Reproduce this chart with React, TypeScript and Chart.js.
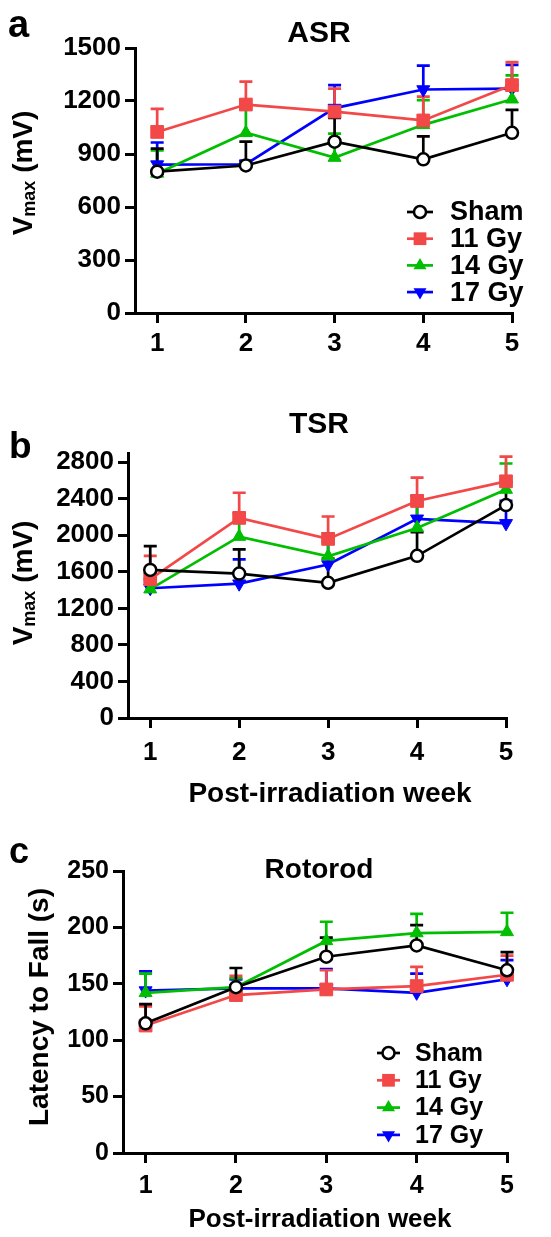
import React, { useEffect, useRef } from "react";
import { Chart, registerables } from "chart.js";

Chart.register(...registerables);

const FONT = '"Liberation Sans", Arial, Helvetica, sans-serif';

// ---------- data ----------
const weeks = [1, 2, 3, 4, 5];
const seriesNames = ["Sham", "11 Gy", "14 Gy", "17 Gy"];

// ASR (Vmax, mV): mean and SEM
const asrSham = [800, 835, 970, 870, 1020];
const asrSemSham = [130, 135, 135, 130, 130];
const asr11 = [1025, 1180, 1140, 1090, 1290];
const asrSem11 = [130, 130, 130, 135, 130];
const asr14 = [790, 1020, 880, 1065, 1210];
const asrSem14 = [130, 150, 135, 140, 135];
const asr17 = [840, 842, 1160, 1265, 1270];
const asrSem17 = [125, 20, 130, 135, 135];
const asrTicks = [0, 300, 600, 900, 1200, 1500];

// TSR (Vmax, mV)
const tsrSham = [1620, 1580, 1480, 1775, 2330];
const tsrSemSham = [260, 265, 265, 260, 250];
const tsr11 = [1520, 2190, 1960, 2375, 2590];
const tsrSem11 = [255, 275, 245, 255, 270];
const tsr14 = [1410, 1985, 1770, 2080, 2500];
const tsrSem14 = [110, 255, 250, 260, 285];
const tsr17 = [1420, 1470, 1680, 2180, 2130];
const tsrSem17 = [100, 265, 255, 250, 245];
const tsrTicks = [0, 400, 800, 1200, 1600, 2000, 2400, 2800];

// Rotorod (latency to fall, s)
const rotSham = [115, 147, 174, 184, 162];
const rotSemSham = [17, 17, 17, 18, 16];
const rot11 = [113, 140, 145, 148, 158];
const rotSem11 = [17, 17, 17, 17, 17];
const rot14 = [142, 147, 188, 195, 196];
const rotSem14 = [17, 8, 17, 17, 17];
const rot17 = [144, 146, 146, 142, 154];
const rotSem17 = [17, 8, 17, 17, 17];
const rotTicks = [0, 50, 100, 150, 200, 250];

// ---------- styles ----------
const colors = ["#000000", "#F24848", "#00BE00", "#0000FF"];
const pointStyles = ["circle", "rect", "triangle", "triangle"];
const pointRotations = [0, 0, 0, 180];
const pointRadii = [6, 9, 7.5, 7.5];
const LINE_W = 2.7;

type Part = { t: string; size: number; dy?: number };

interface PanelSpec {
  height: number;
  means: number[][];
  sems: number[][];
  yMax: number;
  yTicks: number[];
  padding: { top: number; right: number };
  yWidth: number;
  xHeight: number;
  tickSize: number;
  letter: { t: string; x: number; y: number; size: number };
  title: { t: string; x: number; y: number; size: number };
  yTitle: { x: number; y: number; parts: Part[] };
  xTitle?: { t: string; x: number; y: number; size: number };
  legend?: { lx0: number; lx1: number; tx: number; y0: number; dy: number; size: number };
  xTickPad: number;
}

const panels: PanelSpec[] = [
  {
    height: 380,
    means: [asrSham, asr11, asr14, asr17],
    sems: [asrSemSham, asrSem11, asrSem14, asrSem17],
    yMax: 1500,
    yTicks: asrTicks,
    padding: { top: 48, right: 39 },
    yWidth: 135,
    xHeight: 67,
    tickSize: 26,
    letter: { t: "a", x: 8, y: 37, size: 38 },
    title: { t: "ASR", x: 319, y: 42, size: 30 },
    yTitle: {
      x: 32,
      y: 173,
      parts: [
        { t: "V", size: 28 },
        { t: "max", size: 18, dy: 3 },
        { t: " (mV)", size: 28 },
      ],
    },
    legend: { lx0: 407, lx1: 433, tx: 450, y0: 212, dy: 26.7, size: 27 },
    xTickPad: 5,
  },
  {
    height: 450,
    means: [tsrSham, tsr11, tsr14, tsr17],
    sems: [tsrSemSham, tsrSem11, tsrSem14, tsrSem17],
    yMax: 2900,
    yTicks: tsrTicks,
    padding: { top: 73, right: 45 },
    yWidth: 128,
    xHeight: 112,
    tickSize: 26,
    letter: { t: "b", x: 9, y: 78, size: 37 },
    title: { t: "TSR", x: 319, y: 53, size: 30 },
    yTitle: {
      x: 32,
      y: 203,
      parts: [
        { t: "V", size: 28 },
        { t: "max", size: 18, dy: 3 },
        { t: " (mV)", size: 28 },
      ],
    },
    xTitle: { t: "Post-irradiation week", x: 330, y: 422, size: 28 },
    xTickPad: 9,
  },
  {
    height: 407,
    means: [rotSham, rot11, rot14, rot17],
    sems: [rotSemSham, rotSem11, rotSem14, rotSem17],
    yMax: 250,
    yTicks: rotTicks,
    padding: { top: 41, right: 44 },
    yWidth: 123,
    xHeight: 84,
    tickSize: 25,
    letter: { t: "c", x: 9, y: 33, size: 36 },
    title: { t: "Rotorod", x: 319, y: 48, size: 28 },
    yTitle: { x: 48, y: 177, parts: [{ t: "Latency to Fall (s)", size: 28 }] },
    xTitle: { t: "Post-irradiation week", x: 320, y: 397, size: 26 },
    legend: { lx0: 377, lx1: 400, tx: 415, y0: 223, dy: 27.3, size: 25 },
    xTickPad: 8,
  },
];

function drawMarker(ctx: CanvasRenderingContext2D, k: number, x: number, y: number) {
  const r = pointRadii[k];
  ctx.save();
  ctx.fillStyle = colors[k];
  ctx.strokeStyle = colors[k];
  if (k === 0) {
    ctx.beginPath();
    ctx.arc(x, y, r, 0, Math.PI * 2);
    ctx.fillStyle = "#fff";
    ctx.fill();
    ctx.lineWidth = 2.5;
    ctx.stroke();
  } else if (k === 1) {
    const s = r * Math.SQRT1_2;
    ctx.fillRect(x - s, y - s, 2 * s, 2 * s);
  } else {
    const dir = k === 3 ? -1 : 1;
    const h = Math.sin(Math.PI / 3) * r;
    ctx.beginPath();
    ctx.moveTo(x, y - dir * r);
    ctx.lineTo(x + h, y + dir * r * 0.5);
    ctx.lineTo(x - h, y + dir * r * 0.5);
    ctx.closePath();
    ctx.fill();
  }
  ctx.restore();
}

function makePlugin(spec: PanelSpec) {
  return {
    id: "decor",
    beforeDatasetsDraw(chart: any) {
      const ctx: CanvasRenderingContext2D = chart.ctx;
      const xs = chart.scales.x;
      const ys = chart.scales.y;
      ctx.save();
      ctx.lineWidth = LINE_W;
      for (let k = spec.means.length - 1; k >= 0; k--) {
        ctx.strokeStyle = colors[k];
        spec.means[k].forEach((v, j) => {
          const x = xs.getPixelForValue(weeks[j]);
          const y0 = ys.getPixelForValue(v);
          const y1 = ys.getPixelForValue(v + spec.sems[k][j]);
          ctx.beginPath();
          ctx.moveTo(x, y0);
          ctx.lineTo(x, y1);
          ctx.moveTo(x - 6.5, y1);
          ctx.lineTo(x + 6.5, y1);
          ctx.stroke();
        });
      }
      ctx.restore();
    },
    afterDraw(chart: any) {
      const ctx: CanvasRenderingContext2D = chart.ctx;
      ctx.save();
      ctx.fillStyle = "#000";
      ctx.textBaseline = "alphabetic";
      ctx.textAlign = "left";
      ctx.font = `bold ${spec.letter.size}px ${FONT}`;
      ctx.fillText(spec.letter.t, spec.letter.x, spec.letter.y);
      ctx.textAlign = "center";
      ctx.font = `bold ${spec.title.size}px ${FONT}`;
      ctx.fillText(spec.title.t, spec.title.x, spec.title.y);
      if (spec.xTitle) {
        ctx.font = `bold ${spec.xTitle.size}px ${FONT}`;
        ctx.fillText(spec.xTitle.t, spec.xTitle.x, spec.xTitle.y);
      }
      ctx.save();
      ctx.translate(spec.yTitle.x, spec.yTitle.y);
      ctx.rotate(-Math.PI / 2);
      ctx.textAlign = "left";
      let total = 0;
      const widths = spec.yTitle.parts.map((p) => {
        ctx.font = `bold ${p.size}px ${FONT}`;
        const w = ctx.measureText(p.t).width;
        total += w;
        return w;
      });
      let cx = -total / 2;
      spec.yTitle.parts.forEach((p, i) => {
        ctx.font = `bold ${p.size}px ${FONT}`;
        ctx.fillText(p.t, cx, p.dy || 0);
        cx += widths[i];
      });
      ctx.restore();
      if (spec.legend) {
        const L = spec.legend;
        seriesNames.forEach((name, k) => {
          const y = L.y0 + k * L.dy;
          ctx.strokeStyle = colors[k];
          ctx.lineWidth = LINE_W;
          ctx.beginPath();
          ctx.moveTo(L.lx0, y);
          ctx.lineTo(L.lx1, y);
          ctx.stroke();
          drawMarker(ctx, k, (L.lx0 + L.lx1) / 2, y);
          ctx.fillStyle = "#000";
          ctx.textAlign = "left";
          ctx.textBaseline = "middle";
          ctx.font = `bold ${L.size}px ${FONT}`;
          ctx.fillText(name, L.tx, y + 1);
        });
      }
      ctx.restore();
    },
  };
}

function Panel({ spec, top }: { spec: PanelSpec; top: number }) {
  const ref = useRef<HTMLCanvasElement>(null);
  useEffect(() => {
    const tickFont = { family: FONT, size: spec.tickSize, weight: "bold" as const };
    const chart = new Chart(ref.current as HTMLCanvasElement, {
      type: "line",
      data: {
        datasets: spec.means.map((m, k) => ({
          label: seriesNames[k],
          data: m.map((v, j) => ({ x: weeks[j], y: v })),
          borderColor: colors[k],
          backgroundColor: colors[k],
          borderWidth: LINE_W,
          pointStyle: pointStyles[k] as any,
          rotation: pointRotations[k],
          pointRotation: pointRotations[k],
          pointRadius: pointRadii[k],
          pointBackgroundColor: k === 0 ? "#ffffff" : colors[k],
          pointBorderColor: colors[k],
          pointBorderWidth: k === 0 ? 2.5 : 1,
          tension: 0,
          clip: false as any,
        })),
      },
      options: {
        responsive: false,
        animation: false,
        events: [],
        layout: { padding: { top: spec.padding.top, right: spec.padding.right, left: 0, bottom: 0 } },
        plugins: {
          legend: { display: false },
          title: { display: false },
          tooltip: { enabled: false },
        },
        scales: {
          x: {
            type: "linear",
            min: 0.75,
            max: 5,
            afterBuildTicks: (s: any) => {
              s.ticks = weeks.map((v) => ({ value: v }));
            },
            afterFit: (s: any) => {
              s.height = spec.xHeight;
            },
            grid: { drawOnChartArea: false, drawTicks: true, tickLength: 10, lineWidth: 3, color: "#000" },
            border: { display: true, width: 3, color: "#000" },
            ticks: {
              color: "#000",
              font: tickFont,
              padding: spec.xTickPad,
              maxRotation: 0,
              autoSkip: false,
              callback: (v: any) => String(v),
            },
          },
          y: {
            type: "linear",
            min: 0,
            max: spec.yMax,
            afterBuildTicks: (s: any) => {
              s.ticks = spec.yTicks.map((v) => ({ value: v }));
            },
            afterFit: (s: any) => {
              s.width = spec.yWidth;
            },
            grid: { drawOnChartArea: false, drawTicks: true, tickLength: 10, lineWidth: 3, color: "#000" },
            border: { display: true, width: 3, color: "#000" },
            ticks: {
              color: "#000",
              font: tickFont,
              padding: 4,
              autoSkip: false,
              callback: (v: any) => String(v),
            },
          },
        },
      },
      plugins: [makePlugin(spec)],
    } as any);
    return () => chart.destroy();
  }, []);
  return (
    <canvas
      ref={ref}
      width={551}
      height={spec.height}
      style={{ position: "absolute", left: 0, top, width: 551, height: spec.height, display: "block" }}
    />
  );
}

export default function App() {
  const tops = [0, 380, 830];
  return (
    <div style={{ position: "absolute", left: 0, top: 0, width: 551, height: 1237, background: "#fff" }}>
      {panels.map((p, i) => (
        <Panel key={i} spec={p} top={tops[i]} />
      ))}
    </div>
  );
}
